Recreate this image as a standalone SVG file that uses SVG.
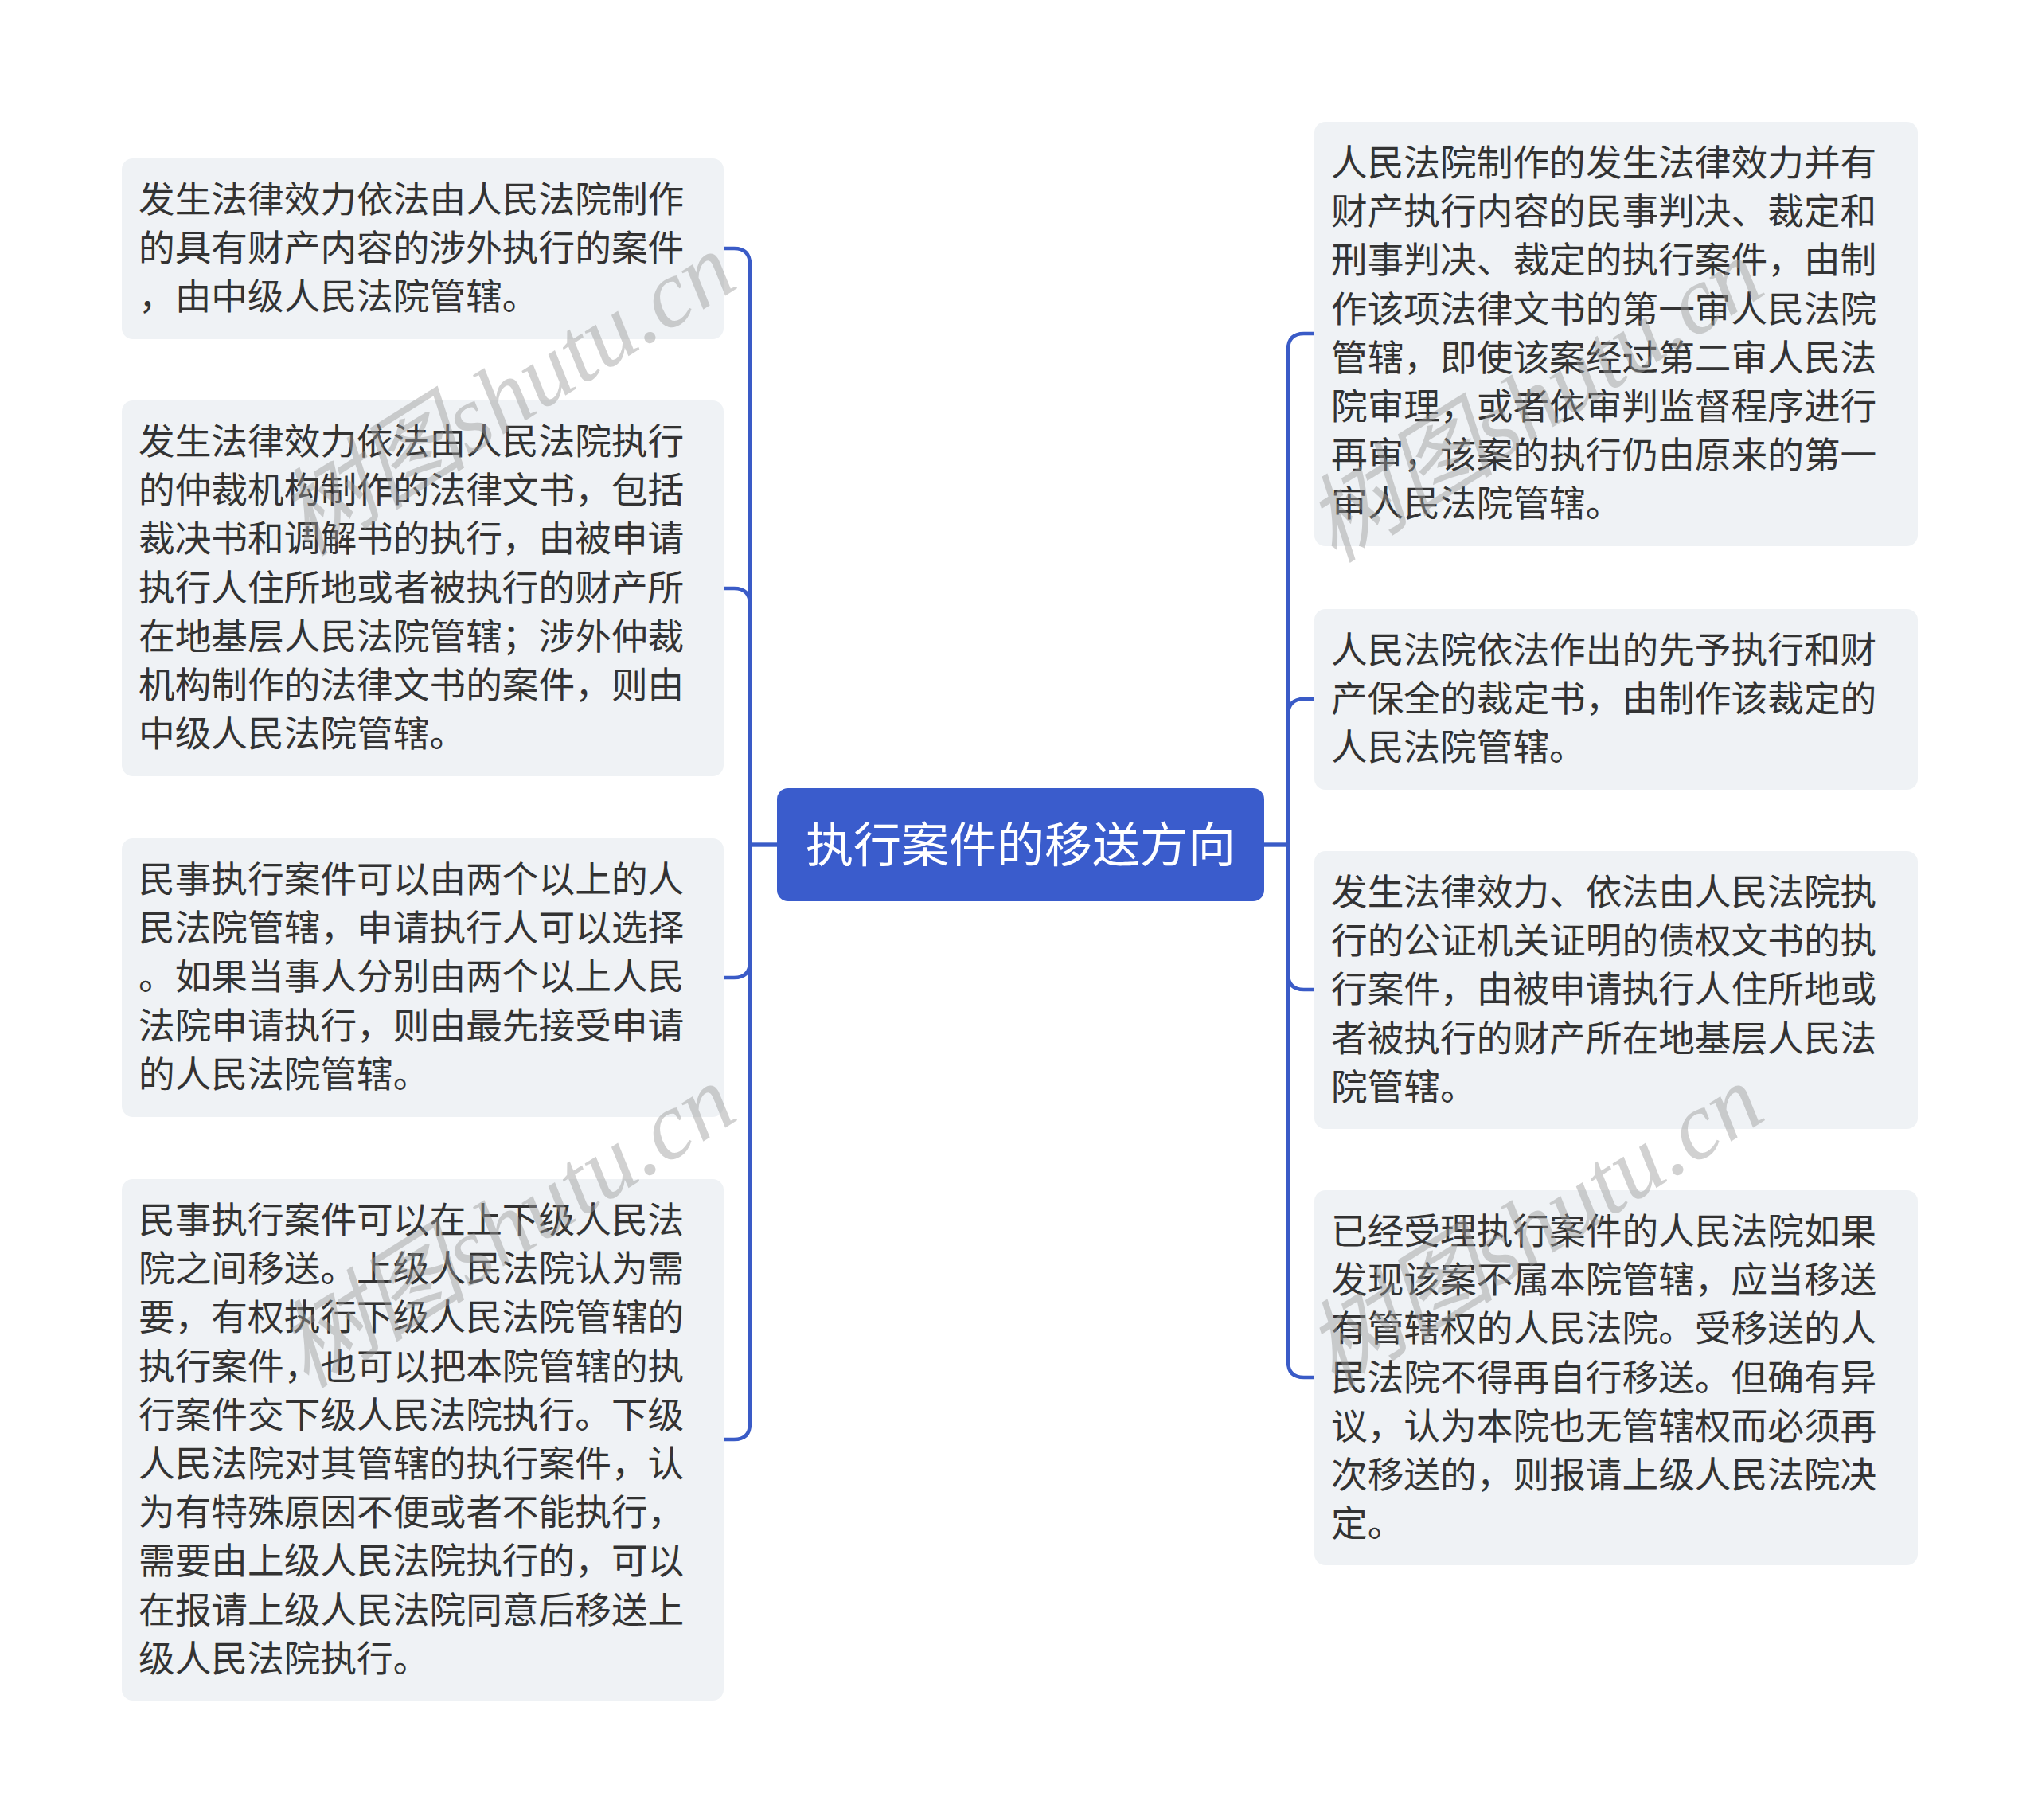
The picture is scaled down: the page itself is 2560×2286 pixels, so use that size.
<svg xmlns="http://www.w3.org/2000/svg" width="2560" height="2286" viewBox="0 0 2560 2286">
<style>
.box{fill:#eff2f5}
.t{font-family:"Noto Sans CJK SC","Noto Sans",sans-serif;font-size:45.7px;fill:#333333}
.root{fill:#3a5ccc}
.rt{font-family:"Noto Sans CJK SC","Noto Sans",sans-serif;font-size:60px;fill:#ffffff}
.c{fill:none;stroke:#3a5bc7;stroke-width:4.5;stroke-linecap:round}
.wm{font-family:"Liberation Serif","Noto Sans CJK SC",serif;font-style:italic;font-size:120px;fill:#9a9a9a;opacity:0.45}
</style>
<rect width="2560" height="2286" fill="#ffffff"/>
<g id="connectors">
<path class="c" d="M976 1061 H942 V332 Q942 312 922 312 H909"/>
<path class="c" d="M976 1061 H942 V759 Q942 739 922 739 H909"/>
<path class="c" d="M976 1061 H942 V1208 Q942 1228 922 1228 H909"/>
<path class="c" d="M976 1061 H942 V1788 Q942 1808 922 1808 H909"/>
<path class="c" d="M1588 1061 H1618 V439 Q1618 419 1638 419 H1651"/>
<path class="c" d="M1588 1061 H1618 V898 Q1618 878 1638 878 H1651"/>
<path class="c" d="M1588 1061 H1618 V1223 Q1618 1243 1638 1243 H1651"/>
<path class="c" d="M1588 1061 H1618 V1710 Q1618 1730 1638 1730 H1651"/>
</g>
<g id="root">
<rect class="root" x="976" y="990" width="612" height="142" rx="14"/>
<text class="rt" x="1282" y="1083" text-anchor="middle">执行案件的移送方向</text>
</g>
<g id="L1">
<rect class="box" x="153" y="199" width="756" height="227" rx="14"/>
<text class="t"><tspan x="174" y="267">发生法律效力依法由人民法院制作</tspan><tspan x="174" y="328.2">的具有财产内容的涉外执行的案件</tspan><tspan x="174" y="389.4">，由中级人民法院管辖。</tspan></text>
</g>
<g id="L2">
<rect class="box" x="153" y="503" width="756" height="472" rx="14"/>
<text class="t"><tspan x="174" y="571">发生法律效力依法由人民法院执行</tspan><tspan x="174" y="632.2">的仲裁机构制作的法律文书，包括</tspan><tspan x="174" y="693.4">裁决书和调解书的执行，由被申请</tspan><tspan x="174" y="754.6">执行人住所地或者被执行的财产所</tspan><tspan x="174" y="815.8">在地基层人民法院管辖；涉外仲裁</tspan><tspan x="174" y="877">机构制作的法律文书的案件，则由</tspan><tspan x="174" y="938.2">中级人民法院管辖。</tspan></text>
</g>
<g id="L3">
<rect class="box" x="153" y="1053" width="756" height="350" rx="14"/>
<text class="t"><tspan x="174" y="1121">民事执行案件可以由两个以上的人</tspan><tspan x="174" y="1182.2">民法院管辖，申请执行人可以选择</tspan><tspan x="174" y="1243.4">。如果当事人分别由两个以上人民</tspan><tspan x="174" y="1304.6">法院申请执行，则由最先接受申请</tspan><tspan x="174" y="1365.8">的人民法院管辖。</tspan></text>
</g>
<g id="L4">
<rect class="box" x="153" y="1481" width="756" height="655" rx="14"/>
<text class="t"><tspan x="174" y="1549">民事执行案件可以在上下级人民法</tspan><tspan x="174" y="1610.2">院之间移送。上级人民法院认为需</tspan><tspan x="174" y="1671.4">要，有权执行下级人民法院管辖的</tspan><tspan x="174" y="1732.6">执行案件，也可以把本院管辖的执</tspan><tspan x="174" y="1793.8">行案件交下级人民法院执行。下级</tspan><tspan x="174" y="1855">人民法院对其管辖的执行案件，认</tspan><tspan x="174" y="1916.2">为有特殊原因不便或者不能执行，</tspan><tspan x="174" y="1977.4">需要由上级人民法院执行的，可以</tspan><tspan x="174" y="2038.6">在报请上级人民法院同意后移送上</tspan><tspan x="174" y="2099.8">级人民法院执行。</tspan></text>
</g>
<g id="R1">
<rect class="box" x="1651" y="153" width="758" height="533" rx="14"/>
<text class="t"><tspan x="1672" y="221">人民法院制作的发生法律效力并有</tspan><tspan x="1672" y="282.2">财产执行内容的民事判决、裁定和</tspan><tspan x="1672" y="343.4">刑事判决、裁定的执行案件，由制</tspan><tspan x="1672" y="404.6">作该项法律文书的第一审人民法院</tspan><tspan x="1672" y="465.8">管辖，即使该案经过第二审人民法</tspan><tspan x="1672" y="527">院审理，或者依审判监督程序进行</tspan><tspan x="1672" y="588.2">再审，该案的执行仍由原来的第一</tspan><tspan x="1672" y="649.4">审人民法院管辖。</tspan></text>
</g>
<g id="R2">
<rect class="box" x="1651" y="765" width="758" height="227" rx="14"/>
<text class="t"><tspan x="1672" y="833">人民法院依法作出的先予执行和财</tspan><tspan x="1672" y="894.2">产保全的裁定书，由制作该裁定的</tspan><tspan x="1672" y="955.4">人民法院管辖。</tspan></text>
</g>
<g id="R3">
<rect class="box" x="1651" y="1069" width="758" height="349" rx="14"/>
<text class="t"><tspan x="1672" y="1137">发生法律效力、依法由人民法院执</tspan><tspan x="1672" y="1198.2">行的公证机关证明的债权文书的执</tspan><tspan x="1672" y="1259.4">行案件，由被申请执行人住所地或</tspan><tspan x="1672" y="1320.6">者被执行的财产所在地基层人民法</tspan><tspan x="1672" y="1381.8">院管辖。</tspan></text>
</g>
<g id="R4">
<rect class="box" x="1651" y="1495" width="758" height="471" rx="14"/>
<text class="t"><tspan x="1672" y="1563">已经受理执行案件的人民法院如果</tspan><tspan x="1672" y="1624.2">发现该案不属本院管辖，应当移送</tspan><tspan x="1672" y="1685.4">有管辖权的人民法院。受移送的人</tspan><tspan x="1672" y="1746.6">民法院不得再自行移送。但确有异</tspan><tspan x="1672" y="1807.8">议，认为本院也无管辖权而必须再</tspan><tspan x="1672" y="1869">次移送的，则报请上级人民法院决</tspan><tspan x="1672" y="1930.2">定。</tspan></text>
</g>
<g id="watermarks">
<text class="wm" transform="translate(385 700) rotate(-32)">树图shutu.cn</text>
<text class="wm" transform="translate(1676 708) rotate(-32)">树图shutu.cn</text>
<text class="wm" transform="translate(385 1745) rotate(-32)">树图shutu.cn</text>
<text class="wm" transform="translate(1676 1745) rotate(-32)">树图shutu.cn</text>
</g>
</svg>
